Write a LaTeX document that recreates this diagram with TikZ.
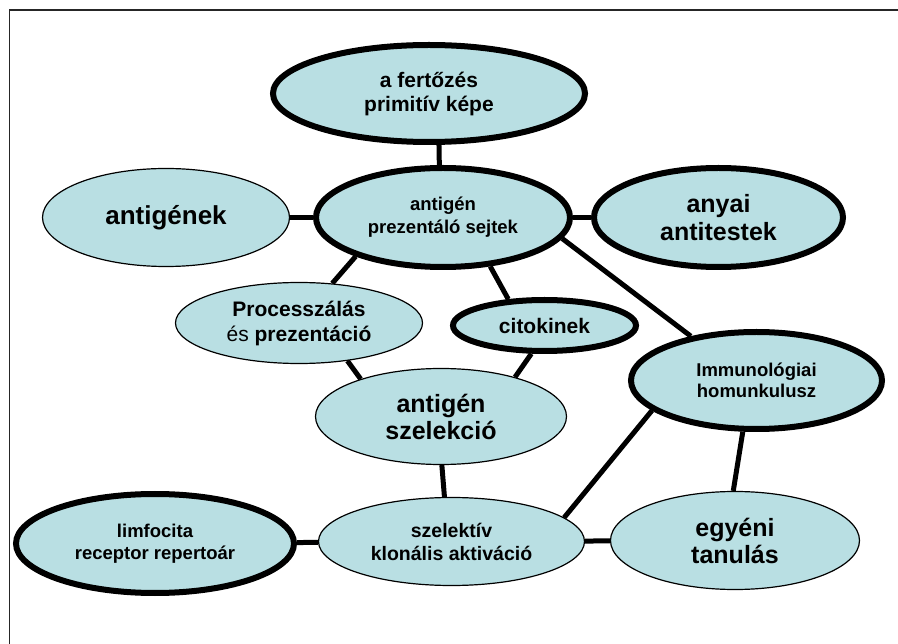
\documentclass[tikz,border=0pt]{standalone}
\usepackage{fontspec}
\setmainfont{Liberation Sans}
\usepackage{tikz}
\usetikzlibrary{shapes.geometric,backgrounds}
\definecolor{bubblefill}{RGB}{185,223,227}

\begin{document}
\begin{tikzpicture}[
  x=1pt, y=-1pt,
  bubble/.style={draw, ellipse, fill=bubblefill, line width=1.2pt, inner sep=0pt, align=center},
  bigbubble/.style={bubble, line width=6pt},
  txt/.style 2 args={font=\bfseries\fontsize{#1}{#2}\selectfont},
  link/.style={line width=5pt}
]
\useasboundingbox (0,0) rectangle (898,644);
\draw[line width=1.3pt, black!85] (9.5,644) |- (898,10);

\node[bigbubble, txt={21}{24}, minimum width=312pt, minimum height=97pt] (fertozes) at (429,93.5) {a fertőzés\\primitív képe};
\node[bubble, txt={26}{30}, minimum width=247pt, minimum height=98pt] (antigenek) at (166,217.5) {antigének};
\node[bigbubble, txt={18.5}{23}, minimum width=254pt, minimum height=99pt] (apc) at (443,217.5) {antigén\\prezentáló sejtek};
\node[bigbubble, txt={25}{28}, minimum width=249pt, minimum height=99pt] (anyai) at (718.5,217.5) {anyai\\antitestek};
\node[bubble, txt={21}{25}, minimum width=247pt, minimum height=81pt] (proc) at (299,323) {Processzálás\\\textmd{és} prezentáció};
\node[bigbubble, txt={21}{24}, minimum width=183pt, minimum height=51pt] (cito) at (544.5,325.5) {citokinek};
\node[bubble, txt={25}{27}, minimum width=251pt, minimum height=96pt] (szel) at (441,416.5) {antigén\\szelekció};
\node[bigbubble, txt={18.5}{21}, minimum width=251pt, minimum height=97pt] (homunk) at (756.5,380.5) {Immunológiai\\homunkulusz};
\node[bigbubble, txt={18.5}{22}, minimum width=278pt, minimum height=99pt] (limf) at (155,543.5) {limfocita\\receptor repertoár};
\node[bubble, txt={19.5}{23}, minimum width=266pt, minimum height=88pt] (klonalis) at (451.5,541.5) {szelektív\\klonális aktiváció};
\node[bubble, txt={25}{27}, minimum width=249pt, minimum height=98pt] (egyeni) at (735,540.5) {egyéni\\tanulás};

% connections, behind the bubbles
\begin{scope}[on background layer]
\draw[link] (fertozes.281) -- (apc.94);
\draw[link] (antigenek.east) -- (apc.west);
\draw[link] (apc.east) -- (anyai.west);
\draw[link] (apc.204) -- (proc.50);
\draw[link] (apc.314) -- (cito.144);
\draw[link] (apc.350) -- (homunk.146);
\draw[link] (proc.322) -- (szel.155);
\draw[link] (cito.245) -- (szel.28);
\draw[link] (szel.271) -- (klonalis.99);
\draw[link] (limf) -- (klonalis);
\draw[link] (klonalis) -- (egyeni);
\draw[link] (klonalis.12) -- (homunk.196);
\draw[link] (homunk.255) -- (egyeni.92);
\end{scope}
\end{tikzpicture}
\end{document}
